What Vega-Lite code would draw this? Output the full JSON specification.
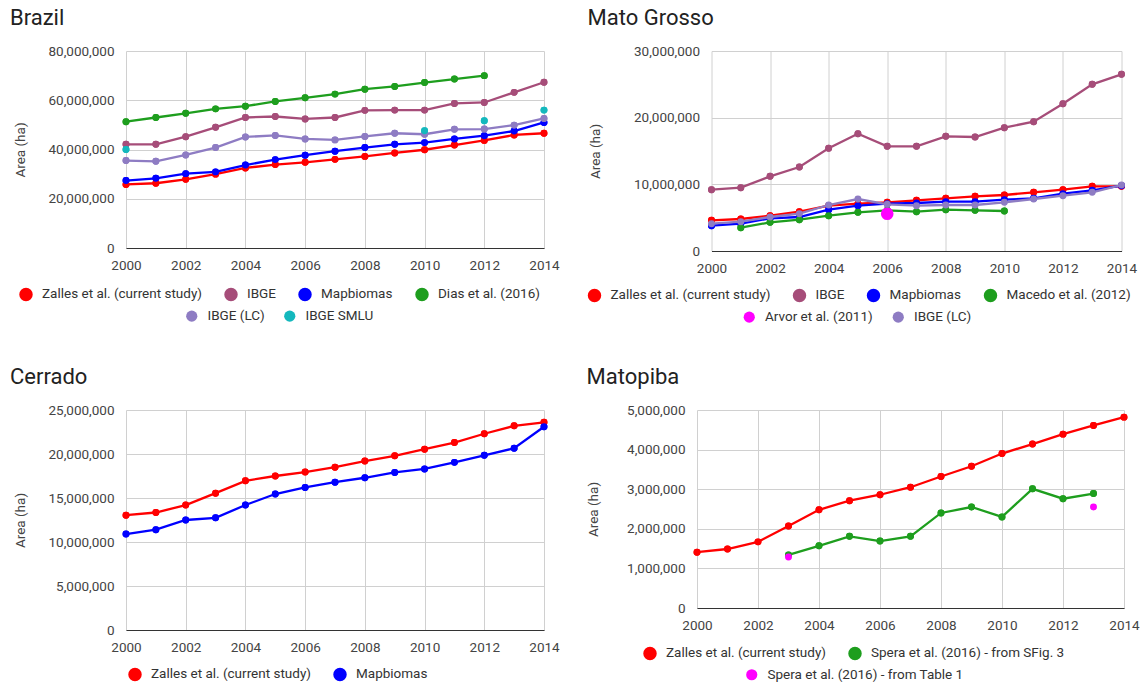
{
  "$schema": "https://vega.github.io/schema/vega-lite/v6.json",
  "background": "white",
  "padding": {"left": 9, "top": 7, "right": 0, "bottom": 0},
  "autosize": {"type": "pad"},
  "config": {
    "font": "Roboto",
    "view": {"stroke": null},
    "title": {"font": "Roboto", "fontSize": 22, "fontWeight": "normal", "color": "#222", "anchor": "start", "offset": 14},
    "axis": {"labelFont": "Roboto", "labelFontSize": 13.5, "labelColor": "#444", "titleFont": "Roboto", "titleFontSize": 13.5, "titleFontWeight": "normal", "titleColor": "#444", "gridColor": "#d0d0d0", "tickSize": 0, "ticks": false, "domain": false},
    "axisX": {"domain": true, "domainColor": "#333", "labelPadding": 10, "labelFlush": false, "labelOverlap": false},
    "axisY": {"labelPadding": 12, "titlePadding": 20},
    "legend": {"labelFont": "Roboto", "labelFontSize": 13.5, "labelColor": "#333", "labelLimit": 400, "symbolType": "circle", "symbolSize": 125, "symbolStrokeWidth": 0, "symbolOpacity": 1, "labelOffset": 9, "columnPadding": 18, "padding": 0, "orient": "none", "direction": "horizontal"},
    "circle": {"opacity": 1},
    "line": {"strokeWidth": 2.3}
  },
  "datasets": {
    "brazil": [
      {"s": "Zalles et al. (current study)", "year": 2000, "area": 25800000},
      {"s": "Zalles et al. (current study)", "year": 2001, "area": 26300000},
      {"s": "Zalles et al. (current study)", "year": 2002, "area": 27900000},
      {"s": "Zalles et al. (current study)", "year": 2003, "area": 30000000},
      {"s": "Zalles et al. (current study)", "year": 2004, "area": 32500000},
      {"s": "Zalles et al. (current study)", "year": 2005, "area": 33900000},
      {"s": "Zalles et al. (current study)", "year": 2006, "area": 34800000},
      {"s": "Zalles et al. (current study)", "year": 2007, "area": 36000000},
      {"s": "Zalles et al. (current study)", "year": 2008, "area": 37200000},
      {"s": "Zalles et al. (current study)", "year": 2009, "area": 38600000},
      {"s": "Zalles et al. (current study)", "year": 2010, "area": 39900000},
      {"s": "Zalles et al. (current study)", "year": 2011, "area": 41800000},
      {"s": "Zalles et al. (current study)", "year": 2012, "area": 43700000},
      {"s": "Zalles et al. (current study)", "year": 2013, "area": 45900000},
      {"s": "Zalles et al. (current study)", "year": 2014, "area": 46600000},
      {"s": "IBGE", "year": 2000, "area": 42100000},
      {"s": "IBGE", "year": 2001, "area": 42100000},
      {"s": "IBGE", "year": 2002, "area": 45200000},
      {"s": "IBGE", "year": 2003, "area": 49000000},
      {"s": "IBGE", "year": 2004, "area": 53000000},
      {"s": "IBGE", "year": 2005, "area": 53400000},
      {"s": "IBGE", "year": 2006, "area": 52400000},
      {"s": "IBGE", "year": 2007, "area": 53000000},
      {"s": "IBGE", "year": 2008, "area": 55900000},
      {"s": "IBGE", "year": 2009, "area": 56000000},
      {"s": "IBGE", "year": 2010, "area": 56000000},
      {"s": "IBGE", "year": 2011, "area": 58700000},
      {"s": "IBGE", "year": 2012, "area": 59100000},
      {"s": "IBGE", "year": 2013, "area": 63200000},
      {"s": "IBGE", "year": 2014, "area": 67300000},
      {"s": "Mapbiomas", "year": 2000, "area": 27400000},
      {"s": "Mapbiomas", "year": 2001, "area": 28300000},
      {"s": "Mapbiomas", "year": 2002, "area": 30200000},
      {"s": "Mapbiomas", "year": 2003, "area": 30900000},
      {"s": "Mapbiomas", "year": 2004, "area": 33700000},
      {"s": "Mapbiomas", "year": 2005, "area": 35900000},
      {"s": "Mapbiomas", "year": 2006, "area": 37700000},
      {"s": "Mapbiomas", "year": 2007, "area": 39300000},
      {"s": "Mapbiomas", "year": 2008, "area": 40800000},
      {"s": "Mapbiomas", "year": 2009, "area": 42100000},
      {"s": "Mapbiomas", "year": 2010, "area": 42800000},
      {"s": "Mapbiomas", "year": 2011, "area": 44300000},
      {"s": "Mapbiomas", "year": 2012, "area": 45600000},
      {"s": "Mapbiomas", "year": 2013, "area": 47500000},
      {"s": "Mapbiomas", "year": 2014, "area": 51000000},
      {"s": "Dias et al. (2016)", "year": 2000, "area": 51300000},
      {"s": "Dias et al. (2016)", "year": 2001, "area": 53000000},
      {"s": "Dias et al. (2016)", "year": 2002, "area": 54700000},
      {"s": "Dias et al. (2016)", "year": 2003, "area": 56500000},
      {"s": "Dias et al. (2016)", "year": 2004, "area": 57600000},
      {"s": "Dias et al. (2016)", "year": 2005, "area": 59500000},
      {"s": "Dias et al. (2016)", "year": 2006, "area": 61000000},
      {"s": "Dias et al. (2016)", "year": 2007, "area": 62500000},
      {"s": "Dias et al. (2016)", "year": 2008, "area": 64500000},
      {"s": "Dias et al. (2016)", "year": 2009, "area": 65600000},
      {"s": "Dias et al. (2016)", "year": 2010, "area": 67200000},
      {"s": "Dias et al. (2016)", "year": 2011, "area": 68600000},
      {"s": "Dias et al. (2016)", "year": 2012, "area": 70000000},
      {"s": "IBGE (LC)", "year": 2000, "area": 35500000},
      {"s": "IBGE (LC)", "year": 2001, "area": 35200000},
      {"s": "IBGE (LC)", "year": 2002, "area": 37800000},
      {"s": "IBGE (LC)", "year": 2003, "area": 40800000},
      {"s": "IBGE (LC)", "year": 2004, "area": 45100000},
      {"s": "IBGE (LC)", "year": 2005, "area": 45700000},
      {"s": "IBGE (LC)", "year": 2006, "area": 44300000},
      {"s": "IBGE (LC)", "year": 2007, "area": 43900000},
      {"s": "IBGE (LC)", "year": 2008, "area": 45300000},
      {"s": "IBGE (LC)", "year": 2009, "area": 46600000},
      {"s": "IBGE (LC)", "year": 2010, "area": 46200000},
      {"s": "IBGE (LC)", "year": 2011, "area": 48200000},
      {"s": "IBGE (LC)", "year": 2012, "area": 48300000},
      {"s": "IBGE (LC)", "year": 2013, "area": 49900000},
      {"s": "IBGE (LC)", "year": 2014, "area": 52600000},
      {"s": "IBGE SMLU", "year": 2000, "area": 40000000},
      {"s": "IBGE SMLU", "year": 2010, "area": 47600000},
      {"s": "IBGE SMLU", "year": 2012, "area": 51700000},
      {"s": "IBGE SMLU", "year": 2014, "area": 56000000}
    ],
    "matogrosso": [
      {"s": "Zalles et al. (current study)", "year": 2000, "area": 4600000},
      {"s": "Zalles et al. (current study)", "year": 2001, "area": 4800000},
      {"s": "Zalles et al. (current study)", "year": 2002, "area": 5300000},
      {"s": "Zalles et al. (current study)", "year": 2003, "area": 5900000},
      {"s": "Zalles et al. (current study)", "year": 2004, "area": 6800000},
      {"s": "Zalles et al. (current study)", "year": 2005, "area": 7100000},
      {"s": "Zalles et al. (current study)", "year": 2006, "area": 7300000},
      {"s": "Zalles et al. (current study)", "year": 2007, "area": 7600000},
      {"s": "Zalles et al. (current study)", "year": 2008, "area": 7900000},
      {"s": "Zalles et al. (current study)", "year": 2009, "area": 8200000},
      {"s": "Zalles et al. (current study)", "year": 2010, "area": 8400000},
      {"s": "Zalles et al. (current study)", "year": 2011, "area": 8800000},
      {"s": "Zalles et al. (current study)", "year": 2012, "area": 9200000},
      {"s": "Zalles et al. (current study)", "year": 2013, "area": 9700000},
      {"s": "Zalles et al. (current study)", "year": 2014, "area": 9700000},
      {"s": "IBGE", "year": 2000, "area": 9200000},
      {"s": "IBGE", "year": 2001, "area": 9500000},
      {"s": "IBGE", "year": 2002, "area": 11200000},
      {"s": "IBGE", "year": 2003, "area": 12600000},
      {"s": "IBGE", "year": 2004, "area": 15400000},
      {"s": "IBGE", "year": 2005, "area": 17600000},
      {"s": "IBGE", "year": 2006, "area": 15700000},
      {"s": "IBGE", "year": 2007, "area": 15700000},
      {"s": "IBGE", "year": 2008, "area": 17200000},
      {"s": "IBGE", "year": 2009, "area": 17100000},
      {"s": "IBGE", "year": 2010, "area": 18500000},
      {"s": "IBGE", "year": 2011, "area": 19400000},
      {"s": "IBGE", "year": 2012, "area": 22100000},
      {"s": "IBGE", "year": 2013, "area": 25000000},
      {"s": "IBGE", "year": 2014, "area": 26500000},
      {"s": "Mapbiomas", "year": 2000, "area": 3800000},
      {"s": "Mapbiomas", "year": 2001, "area": 4100000},
      {"s": "Mapbiomas", "year": 2002, "area": 4900000},
      {"s": "Mapbiomas", "year": 2003, "area": 5100000},
      {"s": "Mapbiomas", "year": 2004, "area": 6200000},
      {"s": "Mapbiomas", "year": 2005, "area": 6800000},
      {"s": "Mapbiomas", "year": 2006, "area": 7100000},
      {"s": "Mapbiomas", "year": 2007, "area": 7200000},
      {"s": "Mapbiomas", "year": 2008, "area": 7400000},
      {"s": "Mapbiomas", "year": 2009, "area": 7400000},
      {"s": "Mapbiomas", "year": 2010, "area": 7700000},
      {"s": "Mapbiomas", "year": 2011, "area": 7900000},
      {"s": "Mapbiomas", "year": 2012, "area": 8600000},
      {"s": "Mapbiomas", "year": 2013, "area": 9100000},
      {"s": "Mapbiomas", "year": 2014, "area": 9800000},
      {"s": "Macedo et al. (2012)", "year": 2001, "area": 3500000},
      {"s": "Macedo et al. (2012)", "year": 2002, "area": 4300000},
      {"s": "Macedo et al. (2012)", "year": 2003, "area": 4700000},
      {"s": "Macedo et al. (2012)", "year": 2004, "area": 5300000},
      {"s": "Macedo et al. (2012)", "year": 2005, "area": 5800000},
      {"s": "Macedo et al. (2012)", "year": 2006, "area": 6100000},
      {"s": "Macedo et al. (2012)", "year": 2007, "area": 5900000},
      {"s": "Macedo et al. (2012)", "year": 2008, "area": 6200000},
      {"s": "Macedo et al. (2012)", "year": 2009, "area": 6100000},
      {"s": "Macedo et al. (2012)", "year": 2010, "area": 6000000},
      {"s": "Arvor et al. (2011)", "year": 2006, "area": 5600000},
      {"s": "IBGE (LC)", "year": 2000, "area": 4100000},
      {"s": "IBGE (LC)", "year": 2001, "area": 4400000},
      {"s": "IBGE (LC)", "year": 2002, "area": 5100000},
      {"s": "IBGE (LC)", "year": 2003, "area": 5600000},
      {"s": "IBGE (LC)", "year": 2004, "area": 6900000},
      {"s": "IBGE (LC)", "year": 2005, "area": 7800000},
      {"s": "IBGE (LC)", "year": 2006, "area": 7000000},
      {"s": "IBGE (LC)", "year": 2007, "area": 6800000},
      {"s": "IBGE (LC)", "year": 2008, "area": 6900000},
      {"s": "IBGE (LC)", "year": 2009, "area": 6900000},
      {"s": "IBGE (LC)", "year": 2010, "area": 7300000},
      {"s": "IBGE (LC)", "year": 2011, "area": 7800000},
      {"s": "IBGE (LC)", "year": 2012, "area": 8300000},
      {"s": "IBGE (LC)", "year": 2013, "area": 8800000},
      {"s": "IBGE (LC)", "year": 2014, "area": 9900000}
    ],
    "cerrado": [
      {"s": "Zalles et al. (current study)", "year": 2000, "area": 13050000},
      {"s": "Zalles et al. (current study)", "year": 2001, "area": 13350000},
      {"s": "Zalles et al. (current study)", "year": 2002, "area": 14200000},
      {"s": "Zalles et al. (current study)", "year": 2003, "area": 15550000},
      {"s": "Zalles et al. (current study)", "year": 2004, "area": 16950000},
      {"s": "Zalles et al. (current study)", "year": 2005, "area": 17500000},
      {"s": "Zalles et al. (current study)", "year": 2006, "area": 17950000},
      {"s": "Zalles et al. (current study)", "year": 2007, "area": 18500000},
      {"s": "Zalles et al. (current study)", "year": 2008, "area": 19200000},
      {"s": "Zalles et al. (current study)", "year": 2009, "area": 19800000},
      {"s": "Zalles et al. (current study)", "year": 2010, "area": 20550000},
      {"s": "Zalles et al. (current study)", "year": 2011, "area": 21300000},
      {"s": "Zalles et al. (current study)", "year": 2012, "area": 22300000},
      {"s": "Zalles et al. (current study)", "year": 2013, "area": 23200000},
      {"s": "Zalles et al. (current study)", "year": 2014, "area": 23600000},
      {"s": "Mapbiomas", "year": 2000, "area": 10900000},
      {"s": "Mapbiomas", "year": 2001, "area": 11400000},
      {"s": "Mapbiomas", "year": 2002, "area": 12500000},
      {"s": "Mapbiomas", "year": 2003, "area": 12750000},
      {"s": "Mapbiomas", "year": 2004, "area": 14200000},
      {"s": "Mapbiomas", "year": 2005, "area": 15450000},
      {"s": "Mapbiomas", "year": 2006, "area": 16200000},
      {"s": "Mapbiomas", "year": 2007, "area": 16800000},
      {"s": "Mapbiomas", "year": 2008, "area": 17300000},
      {"s": "Mapbiomas", "year": 2009, "area": 17900000},
      {"s": "Mapbiomas", "year": 2010, "area": 18300000},
      {"s": "Mapbiomas", "year": 2011, "area": 19050000},
      {"s": "Mapbiomas", "year": 2012, "area": 19850000},
      {"s": "Mapbiomas", "year": 2013, "area": 20650000},
      {"s": "Mapbiomas", "year": 2014, "area": 23100000}
    ],
    "matopiba": [
      {"s": "Zalles et al. (current study)", "year": 2000, "area": 1410000},
      {"s": "Zalles et al. (current study)", "year": 2001, "area": 1490000},
      {"s": "Zalles et al. (current study)", "year": 2002, "area": 1670000},
      {"s": "Zalles et al. (current study)", "year": 2003, "area": 2070000},
      {"s": "Zalles et al. (current study)", "year": 2004, "area": 2480000},
      {"s": "Zalles et al. (current study)", "year": 2005, "area": 2710000},
      {"s": "Zalles et al. (current study)", "year": 2006, "area": 2860000},
      {"s": "Zalles et al. (current study)", "year": 2007, "area": 3050000},
      {"s": "Zalles et al. (current study)", "year": 2008, "area": 3320000},
      {"s": "Zalles et al. (current study)", "year": 2009, "area": 3580000},
      {"s": "Zalles et al. (current study)", "year": 2010, "area": 3900000},
      {"s": "Zalles et al. (current study)", "year": 2011, "area": 4140000},
      {"s": "Zalles et al. (current study)", "year": 2012, "area": 4390000},
      {"s": "Zalles et al. (current study)", "year": 2013, "area": 4610000},
      {"s": "Zalles et al. (current study)", "year": 2014, "area": 4820000},
      {"s": "Spera et al. (2016) - from SFig. 3", "year": 2003, "area": 1340000},
      {"s": "Spera et al. (2016) - from SFig. 3", "year": 2004, "area": 1570000},
      {"s": "Spera et al. (2016) - from SFig. 3", "year": 2005, "area": 1810000},
      {"s": "Spera et al. (2016) - from SFig. 3", "year": 2006, "area": 1690000},
      {"s": "Spera et al. (2016) - from SFig. 3", "year": 2007, "area": 1810000},
      {"s": "Spera et al. (2016) - from SFig. 3", "year": 2008, "area": 2400000},
      {"s": "Spera et al. (2016) - from SFig. 3", "year": 2009, "area": 2550000},
      {"s": "Spera et al. (2016) - from SFig. 3", "year": 2010, "area": 2300000},
      {"s": "Spera et al. (2016) - from SFig. 3", "year": 2011, "area": 3010000},
      {"s": "Spera et al. (2016) - from SFig. 3", "year": 2012, "area": 2760000},
      {"s": "Spera et al. (2016) - from SFig. 3", "year": 2013, "area": 2890000},
      {"s": "Spera et al. (2016) - from Table 1", "year": 2003, "area": 1290000},
      {"s": "Spera et al. (2016) - from Table 1", "year": 2013, "area": 2550000}
    ]
  },
  "spacing": 42,
  "resolve": {"scale": {"color": "independent", "fill": "independent", "stroke": "independent"}, "legend": {"color": "independent", "fill": "independent", "stroke": "independent"}},
  "vconcat": [
    {
      "spacing": 27.5,
      "resolve": {"scale": {"color": "independent", "fill": "independent", "stroke": "independent"}, "legend": {"color": "independent", "fill": "independent", "stroke": "independent"}},
      "hconcat": [
        {
          "title": {"text": "Brazil", "dx": -4},
          "width": 418,
          "height": 197,
          "data": {"name": "brazil"},
          "encoding": {
            "x": {"field": "year", "type": "quantitative", "scale": {"domain": [2000, 2014], "nice": false, "zero": false}, "axis": {"values": [2000, 2002, 2004, 2006, 2008, 2010, 2012, 2014], "format": "d", "title": null}},
            "y": {"field": "area", "type": "quantitative", "scale": {"domain": [0, 80000000], "nice": false}, "axis": {"values": [0, 20000000, 40000000, 60000000, 80000000], "format": ",d", "title": "Area (ha)"}}
          },
          "layer": [
            {"transform": [{"filter": {"field": "s", "oneOf": ["Zalles et al. (current study)", "IBGE", "Mapbiomas", "Dias et al. (2016)"]}}], "mark": {"type": "circle", "size": 48}, "encoding": {"color": {"field": "s", "type": "nominal", "scale": {"domain": ["Zalles et al. (current study)", "IBGE", "Mapbiomas", "Dias et al. (2016)"], "range": ["#ff0000", "#a64d79", "#0000ff", "#1e9e1e"]}, "legend": {"title": null, "legendX": -107, "legendY": 236}}}},
            {"transform": [{"filter": {"field": "s", "oneOf": ["Zalles et al. (current study)", "IBGE", "Mapbiomas", "Dias et al. (2016)"]}}], "mark": {"type": "line"}, "encoding": {"color": {"field": "s", "type": "nominal"}}},
            {"transform": [{"filter": {"field": "s", "oneOf": ["Zalles et al. (current study)", "IBGE", "Mapbiomas", "Dias et al. (2016)"]}}], "mark": {"type": "circle", "size": 48}, "encoding": {"color": {"field": "s", "type": "nominal"}}},
            {"transform": [{"filter": {"field": "s", "oneOf": ["IBGE (LC)", "IBGE SMLU"]}}], "mark": {"type": "circle", "size": 48}, "encoding": {"fill": {"field": "s", "type": "nominal", "scale": {"domain": ["IBGE (LC)", "IBGE SMLU"], "range": ["#8e7cc3", "#14b8bd"]}, "legend": {"title": null, "legendX": 59, "legendY": 258}}}},
            {"transform": [{"filter": {"field": "s", "equal": "IBGE (LC)"}}], "mark": {"type": "line"}, "encoding": {"stroke": {"field": "s", "type": "nominal", "scale": {"domain": ["IBGE (LC)", "IBGE SMLU"], "range": ["#8e7cc3", "#14b8bd"]}, "legend": null}}},
            {"transform": [{"filter": {"field": "s", "oneOf": ["IBGE (LC)", "IBGE SMLU"]}}], "mark": {"type": "circle", "size": 48}, "encoding": {"fill": {"field": "s", "type": "nominal"}}}
          ]
        },
        {
          "title": "Mato Grosso",
          "width": 410,
          "height": 200,
          "data": {"name": "matogrosso"},
          "encoding": {
            "x": {"field": "year", "type": "quantitative", "scale": {"domain": [2000, 2014], "nice": false, "zero": false}, "axis": {"values": [2000, 2002, 2004, 2006, 2008, 2010, 2012, 2014], "format": "d", "title": null}},
            "y": {"field": "area", "type": "quantitative", "scale": {"domain": [0, 30000000], "nice": false}, "axis": {"values": [0, 10000000, 20000000, 30000000], "format": ",d", "title": "Area (ha)", "titlePadding": 31}}
          },
          "layer": [
            {"transform": [{"filter": {"field": "s", "oneOf": ["Zalles et al. (current study)", "IBGE", "Mapbiomas", "Macedo et al. (2012)"]}}], "mark": {"type": "circle", "size": 48}, "encoding": {"color": {"field": "s", "type": "nominal", "scale": {"domain": ["Zalles et al. (current study)", "IBGE", "Mapbiomas", "Macedo et al. (2012)"], "range": ["#ff0000", "#a64d79", "#0000ff", "#1e9e1e"]}, "legend": {"title": null, "legendX": -124, "legendY": 237}}}},
            {"transform": [{"filter": {"field": "s", "oneOf": ["Zalles et al. (current study)", "IBGE", "Mapbiomas", "Macedo et al. (2012)"]}}], "mark": {"type": "line"}, "encoding": {"color": {"field": "s", "type": "nominal"}}},
            {"transform": [{"filter": {"field": "s", "oneOf": ["Zalles et al. (current study)", "IBGE", "Mapbiomas", "Macedo et al. (2012)"]}}], "mark": {"type": "circle", "size": 48}, "encoding": {"color": {"field": "s", "type": "nominal"}}},
            {"transform": [{"filter": {"field": "s", "equal": "Arvor et al. (2011)"}}], "mark": {"type": "circle", "size": 160}, "encoding": {"fill": {"field": "s", "type": "nominal", "scale": {"domain": ["Arvor et al. (2011)", "IBGE (LC)"], "range": ["#ff00ff", "#8e7cc3"]}, "legend": {"title": null, "legendX": 31, "legendY": 259}}}},
            {"transform": [{"filter": {"field": "s", "equal": "IBGE (LC)"}}], "mark": {"type": "line"}, "encoding": {"stroke": {"field": "s", "type": "nominal", "scale": {"domain": ["Arvor et al. (2011)", "IBGE (LC)"], "range": ["#ff00ff", "#8e7cc3"]}, "legend": null}}},
            {"transform": [{"filter": {"field": "s", "equal": "IBGE (LC)"}}], "mark": {"type": "circle", "size": 48}, "encoding": {"fill": {"field": "s", "type": "nominal"}}}
          ]
        }
      ]
    },
    {
      "spacing": 26,
      "resolve": {"scale": {"color": "independent", "fill": "independent", "stroke": "independent"}, "legend": {"color": "independent", "fill": "independent", "stroke": "independent"}},
      "hconcat": [
        {
          "title": {"text": "Cerrado", "dx": -4},
          "width": 418,
          "height": 220,
          "data": {"name": "cerrado"},
          "encoding": {
            "x": {"field": "year", "type": "quantitative", "scale": {"domain": [2000, 2014], "nice": false, "zero": false}, "axis": {"values": [2000, 2002, 2004, 2006, 2008, 2010, 2012, 2014], "format": "d", "title": null}},
            "y": {"field": "area", "type": "quantitative", "scale": {"domain": [0, 25000000], "nice": false}, "axis": {"values": [0, 5000000, 10000000, 15000000, 20000000, 25000000], "format": ",d", "title": "Area (ha)"}}
          },
          "layer": [
            {"mark": {"type": "circle", "size": 48}, "encoding": {"color": {"field": "s", "type": "nominal", "scale": {"domain": ["Zalles et al. (current study)", "Mapbiomas"], "range": ["#ff0000", "#0000ff"]}, "legend": {"title": null, "legendX": 2, "legendY": 257}}}},
            {"mark": {"type": "line"}, "encoding": {"color": {"field": "s", "type": "nominal"}}},
            {"mark": {"type": "circle", "size": 48}, "encoding": {"color": {"field": "s", "type": "nominal"}}}
          ]
        },
        {
          "title": "Matopiba",
          "width": 427,
          "height": 198,
          "data": {"name": "matopiba"},
          "encoding": {
            "x": {"field": "year", "type": "quantitative", "scale": {"domain": [2000, 2014], "nice": false, "zero": false}, "axis": {"values": [2000, 2002, 2004, 2006, 2008, 2010, 2012, 2014], "format": "d", "title": null}},
            "y": {"field": "area", "type": "quantitative", "scale": {"domain": [0, 5000000], "nice": false}, "axis": {"values": [0, 1000000, 2000000, 3000000, 4000000, 5000000], "format": ",d", "title": "Area (ha)", "titlePadding": 26}}
          },
          "layer": [
            {"transform": [{"filter": {"field": "s", "oneOf": ["Zalles et al. (current study)", "Spera et al. (2016) - from SFig. 3"]}}], "mark": {"type": "circle", "size": 48}, "encoding": {"color": {"field": "s", "type": "nominal", "scale": {"domain": ["Zalles et al. (current study)", "Spera et al. (2016) - from SFig. 3"], "range": ["#ff0000", "#1e9e1e"]}, "legend": {"title": null, "legendX": -54, "legendY": 236}}}},
            {"transform": [{"filter": {"field": "s", "oneOf": ["Zalles et al. (current study)", "Spera et al. (2016) - from SFig. 3"]}}], "mark": {"type": "line"}, "encoding": {"color": {"field": "s", "type": "nominal"}}},
            {"transform": [{"filter": {"field": "s", "oneOf": ["Zalles et al. (current study)", "Spera et al. (2016) - from SFig. 3"]}}], "mark": {"type": "circle", "size": 48}, "encoding": {"color": {"field": "s", "type": "nominal"}}},
            {"transform": [{"filter": {"field": "s", "equal": "Spera et al. (2016) - from Table 1"}}], "mark": {"type": "circle", "size": 48}, "encoding": {"fill": {"field": "s", "type": "nominal", "scale": {"domain": ["Spera et al. (2016) - from Table 1"], "range": ["#ff00ff"]}, "legend": {"title": null, "legendX": 48, "legendY": 258}}}}
          ]
        }
      ]
    }
  ]
}
